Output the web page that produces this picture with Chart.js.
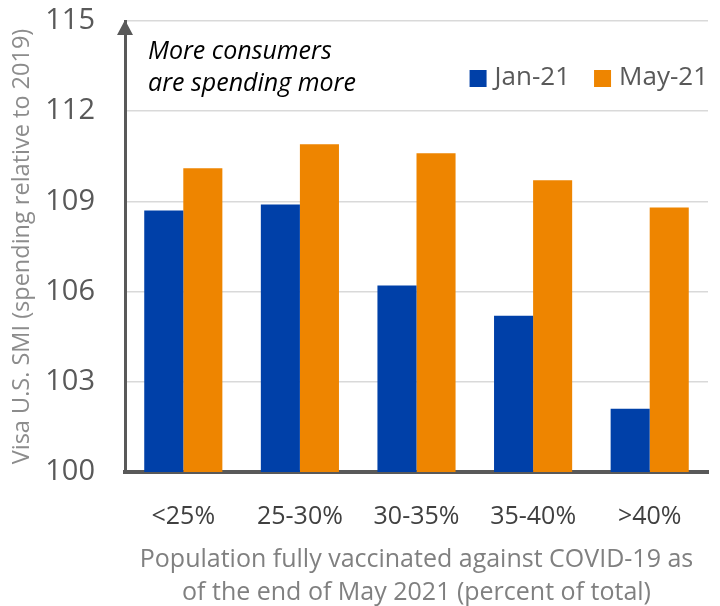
<!DOCTYPE html>
<html>
<head>
<meta charset="utf-8">
<script src="https://cdn.jsdelivr.net/npm/chart.js@4.4.1/dist/chart.umd.min.js"></script>
<style>
  html, body { margin: 0; padding: 0; background: #fff; }
</style>
</head>
<body>
<canvas id="chartBar" width="720" height="606"></canvas>
<script>
const categories = ['<25%', '25-30%', '30-35%', '35-40%', '>40%']
const jan21 = [108.7, 108.9, 106.2, 105.2, 102.1]
const may21 = [110.1, 110.9, 110.6, 109.7, 108.8]
const seriesNames = ['Jan-21', 'May-21']
const yTicks = [100, 103, 106, 109, 112, 115]
const note = ['More consumers', 'are spending more']
const xTitle = ['Population fully vaccinated against COVID-19 as', 'of the end of May 2021 (percent of total)']
const yTitle = 'Visa U.S. SMI (spending relative to 2019)'

const FONT = '"Open Sans", "Noto Sans", sans-serif'

// arrow on the y axis, the italic note and the legend
const extras = {
    id: 'extras',
    afterDraw(chart) {
        const { ctx, chartArea: a } = chart
        ctx.save()
        ctx.fillStyle = '#595959'
        ctx.beginPath()
        ctx.moveTo(a.left, a.top - 1)
        ctx.lineTo(a.left - 8, a.top + 14)
        ctx.lineTo(a.left + 8, a.top + 14)
        ctx.closePath()
        ctx.fill()

        ctx.font = 'italic 25px ' + FONT
        ctx.fillStyle = '#000'
        ctx.textBaseline = 'middle'
        ctx.textAlign = 'left'
        note.forEach((t, i) => ctx.fillText(t, a.left + 23, 52 + i * 32))

        ctx.font = '26px ' + FONT
        let x = a.right
        const y = 78
        const items = chart.data.datasets.map(d => ({ label: d.label, color: d.backgroundColor }))
        for (let i = items.length - 1; i >= 0; i--) {
            const w = ctx.measureText(items[i].label).width
            ctx.fillStyle = '#595959'
            ctx.fillText(items[i].label, x - w, y)
            ctx.fillStyle = items[i].color
            ctx.fillRect(x - w - 8 - 17, y - 8, 17, 17)
            x = x - w - 8 - 17 - 24
        }
        ctx.restore()
    }
}

const configBar = {
    type: 'bar',
    data: {
        labels: categories,
        datasets: [
            { label: seriesNames[0], data: jan21, backgroundColor: '#0040a8' },
            { label: seriesNames[1], data: may21, backgroundColor: '#ee8500' },
        ],
    },
    options: {
        responsive: false,
        animation: false,
        layout: { padding: { left: 0, right: 12, top: 21, bottom: 0 } },
        plugins: { legend: { display: false }, tooltip: { enabled: false } },
        datasets: { bar: { categoryPercentage: 0.67, barPercentage: 1 } },
        scales: {
            x: {
                grid: { display: false, drawTicks: false },
                border: { color: '#595959', width: 4 },
                ticks: { color: '#404040', font: { family: FONT, size: 25 }, padding: 30 },
                title: {
                    display: true,
                    text: xTitle,
                    color: '#808080',
                    font: { family: FONT, size: 25, lineHeight: 1.3 },
                    padding: { top: 0, bottom: -3 },
                },
                afterFit(scale) { scale.height = 134 },
            },
            y: {
                min: 100,
                max: 115,
                afterBuildTicks(scale) { scale.ticks = yTicks.map(v => ({ value: v })) },
                grid: { color: '#d9d9d9', lineWidth: 1.5, drawTicks: true, tickLength: 30, tickColor: 'rgba(0,0,0,0)' },
                border: { color: '#595959', width: 3 },
                ticks: { color: '#595959', font: { family: FONT, size: 29 }, padding: 0 },
                title: {
                    display: true,
                    text: yTitle,
                    color: '#8c8c8c',
                    font: { family: FONT, size: 23.5 },
                    padding: { top: 8, bottom: 0 },
                },
                afterFit(scale) { scale.width = 125 },
            },
        },
    },
    plugins: [extras],
}

const chartBar = new Chart(document.getElementById('chartBar'), configBar)
</script>
</body>
</html>
